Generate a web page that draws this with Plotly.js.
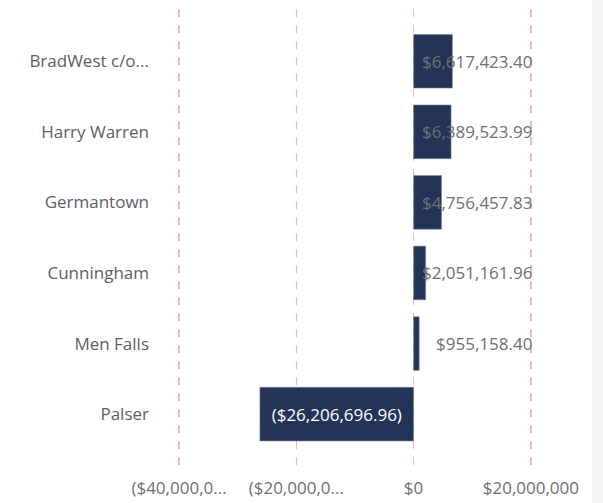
<!DOCTYPE html>
<html>
<head>
<meta charset="utf-8">
<script src="https://cdn.plot.ly/plotly-3.0.1.min.js"></script>
<style>
html,body{margin:0;padding:0;background:#fff;}
#chart{width:603px;height:503px;}
#strip{position:absolute;left:592px;top:0;width:11px;height:503px;background:#f3f3f3;}
</style>
</head>
<body>
<div id="chart"></div>
<div id="strip"></div>
<script>
const categories = ["BradWest c/o...", "Harry Warren", "Germantown", "Cunningham", "Men Falls", "Palser"];
const values = [6617423.40, 6389523.99, 4756457.83, 2051161.96, 955158.40, -26206696.96];
const tickVals = [-40000000, -20000000, 0, 20000000];
const tickText = ["($40,000,0...", "($20,000,0...", "$0", "$20,000,000"];

function fmt(v){
  const s = Math.abs(v).toLocaleString('en-US',{minimumFractionDigits:2,maximumFractionDigits:2});
  return v < 0 ? "($" + s + ")" : "$" + s;
}

const FONT = '"Open Sans", sans-serif';
const labelX = 20000000;
const annotations = [];
values.forEach((v,i)=>{
  if (v >= 0) {
    annotations.push({x: labelX, y: categories[i], xref:'x', yref:'y', text: fmt(v),
      showarrow:false, xanchor:'right', xshift:3,
      font:{family:FONT, size:17, color:'#707070'}});
  }
});

const trace = {
  type:'bar', orientation:'h',
  x: values, y: categories,
  marker:{color:'#243458', line:{color:'#7c85a0', width:0.6}},
  text: values.map(v => v < 0 ? fmt(v) : ''),
  textposition:'inside', insidetextanchor:'middle',
  textfont:{family:FONT, size:17, color:'#ffffff'},
  hoverinfo:'none'
};

const layout = {
  width:603, height:503,
  margin:{l:160, r:11, t:9, b:31},
  paper_bgcolor:'#ffffff', plot_bgcolor:'#ffffff',
  showlegend:false,
  bargap:0.24,
  font:{family:FONT, size:17, color:'#666666'},
  xaxis:{
    range:[-43248000, 30427000],
    tickvals: tickVals, ticktext: tickText,
    showgrid:true, gridcolor:'#f7b3c0', griddash:'8px,8px', gridwidth:1.6,
    zeroline:false, showline:false, ticks:'',
    ticklabelstandoff: 4,
    tickfont:{size:17, color:'#707070'}, fixedrange:true
  },
  yaxis:{
    type:'category',
    range:[5.82, -0.74],
    showgrid:false, zeroline:false, showline:false, ticks:'',
    ticklabelstandoff: 10,
    tickfont:{size:17, color:'#606060'}, fixedrange:true
  },
  annotations: annotations
};

Plotly.newPlot('chart', [trace], layout, {displayModeBar:false, staticPlot:true});
</script>
</body>
</html>
